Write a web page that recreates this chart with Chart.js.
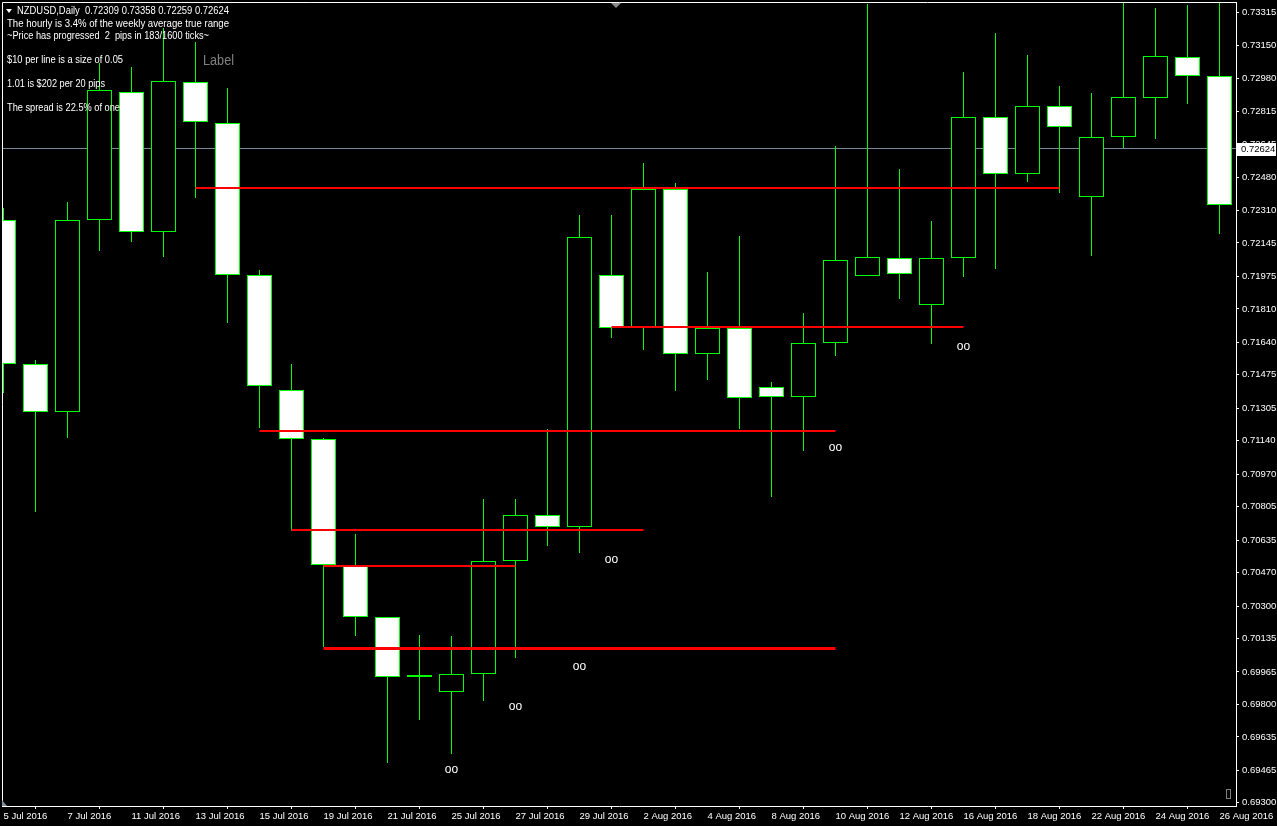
<!DOCTYPE html>
<html>
<head>
<meta charset="utf-8">
<title>NZDUSD,Daily</title>
<script src="https://cdn.jsdelivr.net/npm/chart.js@4.4.1/dist/chart.umd.min.js"></script>
<style>
html,body{margin:0;padding:0;background:#000;width:1277px;height:826px;overflow:hidden}
canvas{display:block}
</style>
</head>
<body>
<canvas id="chart" width="1277" height="826"></canvas>
<script>
// ---------------- data ----------------
const dates = [
  '5 Jul 2016','6 Jul 2016','7 Jul 2016','8 Jul 2016','11 Jul 2016','12 Jul 2016','13 Jul 2016','14 Jul 2016',
  '15 Jul 2016','18 Jul 2016','19 Jul 2016','20 Jul 2016','21 Jul 2016','22 Jul 2016','25 Jul 2016','26 Jul 2016',
  '27 Jul 2016','28 Jul 2016','29 Jul 2016','1 Aug 2016','2 Aug 2016','3 Aug 2016','4 Aug 2016','5 Aug 2016',
  '8 Aug 2016','9 Aug 2016','10 Aug 2016','11 Aug 2016','12 Aug 2016','15 Aug 2016','16 Aug 2016','17 Aug 2016',
  '18 Aug 2016','19 Aug 2016','22 Aug 2016','23 Aug 2016','24 Aug 2016','25 Aug 2016','26 Aug 2016'
];
const opens = [
  0.72263,0.71531,0.71287,0.72263,0.72914,0.72202,0.72964,0.72756,
  0.71983,0.71399,0.71150,0.70510,0.70245,0.69951,0.69864,0.69956,
  0.70530,0.70764,0.70703,0.71983,0.71719,0.72421,0.71582,0.71714,
  0.71414,0.71363,0.71638,0.71978,0.72070,0.71831,0.72070,0.72786,
  0.72497,0.72842,0.72380,0.72685,0.72883,0.73091,0.72995
];
const highs = [
  0.72324,0.71551,0.72354,0.73061,0.73041,0.73239,0.73168,0.72934,
  0.72009,0.71531,0.71155,0.70667,0.70245,0.70154,0.70149,0.70845,
  0.70845,0.71201,0.72288,0.72288,0.72553,0.72451,0.71999,0.72182,
  0.71440,0.71790,0.72639,0.73361,0.72522,0.72258,0.73015,0.73213,
  0.73102,0.72944,0.72908,0.73366,0.73340,0.73356,0.73366
];
const lows = [
  0.71384,0.70779,0.71155,0.72105,0.72151,0.72075,0.72375,0.71739,
  0.71206,0.70682,0.70093,0.70149,0.69503,0.69722,0.69549,0.69818,
  0.70037,0.70606,0.70571,0.71663,0.71602,0.71394,0.71450,0.71201,
  0.70855,0.71089,0.71572,0.71975,0.71861,0.71633,0.71973,0.72014,
  0.72456,0.72400,0.72080,0.72629,0.72675,0.72853,0.72192
];
const closes = [
  0.71531,0.71287,0.72263,0.72924,0.72202,0.72969,0.72761,0.71983,
  0.71419,0.71150,0.70510,0.70245,0.69940,0.69940,0.69956,0.70530,
  0.70764,0.70703,0.72177,0.71714,0.72421,0.71582,0.71714,0.71358,
  0.71363,0.71638,0.72060,0.72075,0.71989,0.72070,0.72786,0.72497,
  0.72842,0.72736,0.72685,0.72888,0.73096,0.72995,0.72339
];
const xTickIdx = [0,2,4,6,8,10,12,14,16,18,20,22,24,26,28,30,32,34,36,38];
const yTickValues = [
  0.73315,0.73150,0.72980,0.72815,0.72645,0.72480,0.72310,0.72145,0.71975,0.71810,0.71640,0.71475,0.71305,
  0.71140,0.70970,0.70805,0.70635,0.70470,0.70300,0.70135,0.69965,0.69800,0.69635,0.69465,0.69300
];
// horizontal levels (price, from bar index, to bar index)
const levelPrices = [0.72422, 0.71716, 0.71187, 0.70684, 0.70506, 0.70083];
const levelFrom   = [6, 19, 8, 9, 10, 10];
const levelTo     = [33, 30, 26, 20, 16, 26];
// "oo" marks
const markIdx    = [14, 16, 18, 19, 26, 30];
const markPrices = [0.69468, 0.69788, 0.69991, 0.70535, 0.71104, 0.71618];
const markText = 'oo';
const bidPrice = 0.72624;
const headerText = 'NZDUSD,Daily  0.72309 0.73358 0.72259 0.72624';
const infoLines = [
  'The hourly is 3.4% of the weekly average true range',
  '~Price has progressed  2  pips in 183/1600 ticks~',
  '$10 per line is a size of 0.05',
  '1.01 is $202 per 20 pips',
  'The spread is 22.5% of one'
];
const labelText = 'Label';

// ---------------- styles / layout ----------------
const FONT = '"Liberation Sans", Arial, sans-serif';
const GREEN = '#00ff00';
const LEVEL_WIDTHS = [2, 2, 2, 2, 2, 3];
const BODY_W = 25, WICK_W = 1;
const BAR_STEP = 32;          // px between bars
const FIRST_BAR_PX = 3.5;     // pixel centre of the first bar
const Y_PX_PER_UNIT = 19680;  // vertical zoom
const Y_ANCHOR = 0.73315, Y_ANCHOR_PX = 12.7;

const bodyData = dates.map((d, i) => ({x: i, y: [Math.min(opens[i], closes[i]), Math.max(opens[i], closes[i])]}));
const wickData = dates.map((d, i) => ({x: i, y: [lows[i], highs[i]]}));
const bodyFill = dates.map((d, i) => closes[i] < opens[i] ? '#ffffff' : '#000000');

const levelSets = levelPrices.map((p, k) => ({
  type: 'line', label: 'level' + k,
  data: [{x: levelFrom[k], y: p}, {x: levelTo[k], y: p}],
  borderColor: '#ff0000', borderWidth: LEVEL_WIDTHS[k], pointRadius: 0,
  borderCapStyle: 'butt', order: -1, clip: 0
}));

const calibrate = {
  id: 'calibrate',
  afterLayout(chart) {
    const x = chart.scales.x, y = chart.scales.y;
    x.min = (x.left - FIRST_BAR_PX) / BAR_STEP;
    x.max = x.min + (x.right - x.left) / BAR_STEP;
    x.configure();
    y.max = Y_ANCHOR + (Y_ANCHOR_PX - y.top) / Y_PX_PER_UNIT;
    y.min = y.max - (y.bottom - y.top) / Y_PX_PER_UNIT;
    y.configure();
  },
  afterDatasetsUpdate(chart) {
    chart.data.datasets.forEach((ds, di) => {
      const meta = chart.getDatasetMeta(di);
      meta.data.forEach(el => {
        if (meta.type === 'bar') {
          el.width = ds.label === 'wick' ? WICK_W : BODY_W;
          el.x = Math.floor(el.x) + 0.5;
          el.y = Math.round(el.y);
          el.base = Math.round(el.base);
        } else {
          const w = ds.borderWidth || 1;
          el.y = w % 2 ? Math.floor(el.y) + 0.5 : Math.round(el.y);
        }
      });
    });
  }
};

const decor = {
  id: 'decor',
  afterDatasetsDraw(chart) {
    const {ctx, chartArea: a, scales: {x, y}} = chart;
    ctx.save();
    // frame (top / left)
    ctx.strokeStyle = '#ffffff'; ctx.lineWidth = 1;
    ctx.beginPath();
    ctx.moveTo(Math.round(a.left) + 0.5, a.bottom);
    ctx.lineTo(Math.round(a.left) + 0.5, Math.round(a.top) + 0.5);
    ctx.lineTo(a.right, Math.round(a.top) + 0.5);
    ctx.stroke();
    // chart shift marker
    const mx = Math.round(a.left + (a.right - a.left) * 0.4975);
    ctx.fillStyle = '#8a8a8a';
    ctx.beginPath(); ctx.moveTo(mx - 5, a.top + 1); ctx.lineTo(mx + 5, a.top + 1); ctx.lineTo(mx, a.top + 6); ctx.closePath(); ctx.fill();
    // corner glyphs
    ctx.beginPath(); ctx.moveTo(a.left, a.bottom - 6); ctx.lineTo(a.left, a.bottom); ctx.lineTo(a.left + 5, a.bottom); ctx.closePath();
    ctx.fillStyle = '#7d8ea0'; ctx.fill();
    ctx.strokeStyle = '#808080';
    ctx.strokeRect(Math.round(a.right) - 9.5, Math.round(a.bottom) - 16.5, 4, 9);

    // "oo" marks
    ctx.fillStyle = '#ffffff';
    ctx.font = '12px ' + FONT;
    ctx.textAlign = 'center'; ctx.textBaseline = 'middle';
    markIdx.forEach((i, k) => ctx.fillText(markText, x.getPixelForValue(i), y.getPixelForValue(markPrices[k])));

    // info text
    ctx.textAlign = 'left';
    ctx.font = '11px ' + FONT;
    ctx.beginPath(); ctx.moveTo(6, 9); ctx.lineTo(12, 9); ctx.lineTo(9, 13); ctx.closePath(); ctx.fill();
    ctx.fillText(headerText, 17, 11, 212);
    const ys = [24, 36, 60, 84, 108];
    const ws = [222, 202, 116, 98, 113];
    infoLines.forEach((t, k) => ctx.fillText(t, 7, ys[k], ws[k]));
    ctx.fillStyle = '#808080';
    ctx.font = '14px ' + FONT;
    ctx.fillText(labelText, 203, 61, 31);
    ctx.restore();
  },
  afterDraw(chart) {
    const {ctx, chartArea: a, scales: {y}} = chart;
    const py = Math.round(y.getPixelForValue(bidPrice));
    const r = Math.round(a.right);
    ctx.save();
    ctx.fillStyle = '#ffffff';
    ctx.fillRect(r + 1, py - 6, 39, 13);
    ctx.fillStyle = '#000000';
    ctx.font = '9.5px ' + FONT;
    ctx.textAlign = 'left'; ctx.textBaseline = 'middle';
    ctx.fillText(bidPrice.toFixed(5), r + 5, py + 0.5);
    ctx.restore();
  }
};

new Chart(document.getElementById('chart'), {
  type: 'bar',
  data: {
    datasets: [
      ...levelSets,
      {label: 'body', data: bodyData, backgroundColor: bodyFill, borderColor: GREEN, borderWidth: 1,
       borderSkipped: false, barThickness: BODY_W, grouped: false, inflateAmount: 0, order: 1, clip: 0},
      {label: 'wick', data: wickData, backgroundColor: GREEN, borderWidth: 0,
       barThickness: WICK_W, grouped: false, inflateAmount: 0, order: 2, clip: 0},
      {type: 'line', label: 'bid', data: [{x: -1, y: bidPrice}, {x: dates.length + 1, y: bidPrice}],
       borderColor: '#778899', borderWidth: 1, pointRadius: 0, order: 3, clip: 0}
    ]
  },
  options: {
    responsive: false, animation: false, devicePixelRatio: 1,
    layout: {padding: {left: 2, top: 2, right: 0, bottom: 0}},
    plugins: {legend: {display: false}, tooltip: {enabled: false}},
    scales: {
      x: {
        type: 'linear', position: 'bottom', offset: false,
        min: -0.046875, max: 38.515625,
        grid: {drawOnChartArea: false, color: '#ffffff', tickLength: 3},
        border: {color: '#ffffff'},
        ticks: {color: '#ffffff', font: {family: FONT, size: 9.5}, align: 'start', autoSkip: false,
                maxRotation: 0, padding: 2, callback: (v) => dates[v] ?? ''},
        afterBuildTicks: (s) => { s.ticks = xTickIdx.map(v => ({value: v})); },
        afterFit: (s) => { s.height = 20; s.paddingLeft = 0; s.paddingRight = 0; }
      },
      y: {
        type: 'linear', position: 'right',
        min: 0.69286, max: 0.7337,
        grid: {drawOnChartArea: false, color: '#ffffff', tickLength: 3},
        border: {color: '#ffffff'},
        ticks: {color: '#ffffff', font: {family: FONT, size: 9.5}, padding: 3, autoSkip: false,
                callback: (v) => Number(v).toFixed(5)},
        afterBuildTicks: (s) => { s.ticks = yTickValues.map(v => ({value: v})); },
        afterFit: (s) => { s.width = 41; s.paddingTop = 0; s.paddingBottom = 0; }
      }
    }
  },
  plugins: [calibrate, decor]
});
</script>
</body>
</html>
